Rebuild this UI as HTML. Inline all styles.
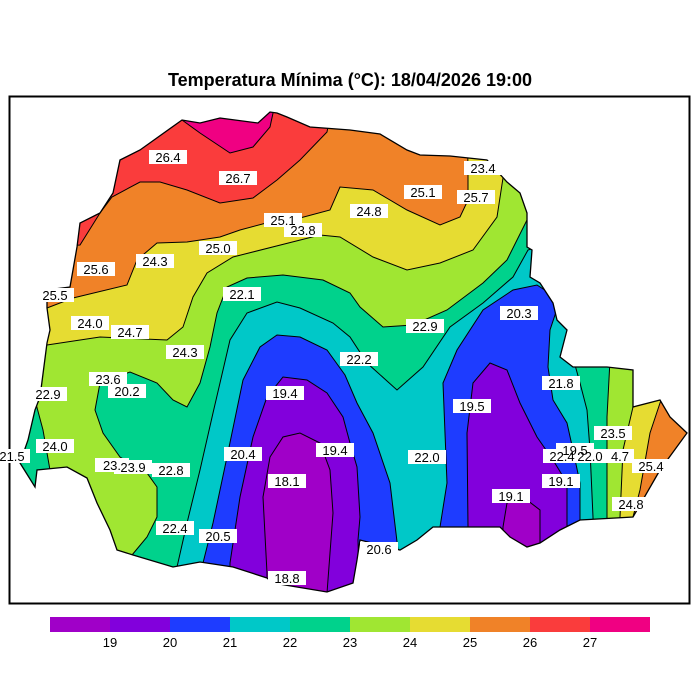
<!DOCTYPE html>
<html><head><meta charset="utf-8"><style>
html,body{margin:0;padding:0;background:#fff;}
svg{display:block;}
text{font-family:"Liberation Sans",sans-serif;}
</style></head><body>
<svg width="700" height="700" viewBox="0 0 700 700" xmlns="http://www.w3.org/2000/svg">
<defs>
<clipPath id="st"><polygon id="outl" points="120,160 140,150 182,120 200,123 220,118 258,123 270,112 277,113 287,117 310,127 350,130 380,134 407,150 420,155 450,156 487,160 507,182 520,193 527,213 527,247 532,250 530,277 540,283 553,303 557,320 567,330 560,357 573,367 607,367 633,370 633,407 660,400 670,417 687,433 660,470 633,517 580,520 560,530 540,543 527,547 510,537 500,527 433,527 417,540 400,550 360,540 357,560 353,583 327,592 273,583 267,578 233,567 200,562 173,567 133,555 117,550 110,530 97,503 87,478 67,467 37,470 35,487 20,463 28,440 35,410 40,397 47,343 50,330 47,308 47,290 70,287 77,247 80,223 100,213 113,193"/></clipPath>
</defs>
<text x="350" y="86" text-anchor="middle" font-size="18" font-weight="bold">Temperatura Mínima (°C): 18/04/2026 19:00</text>
<rect x="9.5" y="96.5" width="680" height="507" fill="none" stroke="#000" stroke-width="2"/>
<g clip-path="url(#st)" stroke="#000" stroke-width="1">
<rect x="0" y="90" width="700" height="530" fill="#a0e632" stroke="none"/>
<polygon fill="#e6dc32" points="0,345 47,345 100,337 167,340 183,327 193,297 207,273 233,257 320,235 340,237 373,257 407,270 440,263 473,250 497,217 503,178 510,90 0,90"/>
<polygon fill="#f08228" points="0,308 47,308 73,298 127,285 137,260 157,243 187,242 220,237 240,230 270,222 300,218 330,210 340,187 373,190 407,210 440,225 460,217 468,200 468,173 467,90 0,90"/>
<polygon fill="#fa3c3c" points="0,250 80,245 100,213 112,197 140,182 160,182 187,190 220,203 253,198 277,180 300,160 327,132 335,90 0,90"/>
<polygon fill="#f00082" points="175,90 182,120 200,133 230,153 253,147 270,127 278,90"/>
<polygon fill="#00d28c" points="132,555 147,537 157,517 157,487 147,473 120,457 103,433 95,410 100,383 130,372 157,383 173,400 187,407 200,383 210,347 217,313 227,287 247,278 283,275 323,280 350,293 360,307 383,327 413,325 447,310 483,283 507,260 527,220 560,200 700,200 700,620 120,620"/>
<polygon fill="#00d28c" points="0,390 35,400 43,430 50,470 50,500 0,500"/>
<polygon fill="#00c8c8" points="177,567 187,523 200,470 213,413 230,340 247,313 277,302 300,308 333,323 350,337 367,363 397,390 423,367 450,327 483,303 513,277 528,250 560,240 575,365 580,383 587,410 590,450 593,517 595,620 170,620"/>
<polygon fill="#1e3cff" points="203,620 203,563 213,523 227,457 243,380 260,347 277,335 300,337 327,350 345,375 357,403 373,433 390,483 398,550 400,620"/>
<polygon fill="#1e3cff" points="440,620 440,527 447,483 443,383 457,350 483,310 513,290 537,285 560,300 550,330 548,367 553,400 567,423 573,450 580,483 580,520 585,620"/>
<polygon fill="#8200dc" points="230,620 230,563 240,497 253,437 267,397 283,377 307,380 327,393 343,417 350,443 357,467 360,517 358,540 360,620"/>
<polygon fill="#8200dc" points="468,620 468,527 467,433 473,383 490,363 507,370 520,403 537,437 553,460 567,483 567,527 570,620"/>
<polygon fill="#a000c8" points="267,620 267,573 263,497 270,457 283,437 300,433 320,443 330,470 333,513 327,593 327,620"/>
<polygon fill="#a000c8" points="503,620 503,527 507,503 523,497 540,510 540,620"/>
<polygon fill="#a0e632" points="610,360 607,417 607,517 607,620 700,620 700,360"/>
<polygon fill="#e6dc32" points="633,360 633,407 623,450 620,517 620,620 700,620 700,360"/>
<polygon fill="#f08228" points="665,390 660,403 650,433 640,490 633,517 633,620 700,620 700,390"/>
</g>
<use href="#outl" fill="none" stroke="#000" stroke-width="1.3"/>
<g font-size="13" text-anchor="middle">
<g fill="#fff" stroke="none">
<rect x="149" y="150" width="38" height="14"/><rect x="219" y="171" width="38" height="14"/><rect x="264" y="213" width="38" height="14"/><rect x="284" y="223" width="38" height="14"/><rect x="350" y="204" width="38" height="14"/><rect x="404" y="185" width="38" height="14"/><rect x="457" y="190" width="38" height="14"/><rect x="464" y="161" width="38" height="14"/><rect x="199" y="241" width="38" height="14"/><rect x="136" y="254" width="38" height="14"/><rect x="77" y="262" width="38" height="14"/><rect x="36" y="288" width="38" height="14"/><rect x="71" y="316" width="38" height="14"/><rect x="111" y="325" width="38" height="14"/><rect x="166" y="345" width="38" height="14"/><rect x="223" y="287" width="38" height="14"/><rect x="406" y="319" width="38" height="14"/><rect x="500" y="306" width="38" height="14"/><rect x="340" y="352" width="38" height="14"/><rect x="89" y="372" width="38" height="14"/><rect x="108" y="384" width="38" height="14"/><rect x="29" y="387" width="38" height="14"/><rect x="266" y="386" width="38" height="14"/><rect x="453" y="399" width="38" height="14"/><rect x="542" y="376" width="38" height="14"/><rect x="36" y="439" width="38" height="14"/><rect x="0" y="449" width="30" height="14"/><rect x="95" y="458" width="34" height="14"/><rect x="114" y="460" width="38" height="14"/><rect x="152" y="463" width="38" height="14"/><rect x="224" y="447" width="38" height="14"/><rect x="316" y="443" width="38" height="14"/><rect x="268" y="474" width="38" height="14"/><rect x="408" y="450" width="38" height="14"/><rect x="594" y="426" width="38" height="14"/><rect x="556" y="443" width="38" height="14"/><rect x="543" y="449" width="38" height="14"/><rect x="571" y="449" width="38" height="14"/><rect x="606" y="449" width="28" height="14"/><rect x="632" y="459" width="38" height="14"/><rect x="542" y="474" width="38" height="14"/><rect x="492" y="489" width="38" height="14"/><rect x="612" y="497" width="38" height="14"/><rect x="156" y="521" width="38" height="14"/><rect x="199" y="529" width="38" height="14"/><rect x="360" y="542" width="38" height="14"/><rect x="268" y="571" width="38" height="14"/>
</g>
<text x="168" y="162">26.4</text><text x="238" y="183">26.7</text><text x="283" y="225">25.1</text><text x="303" y="235">23.8</text><text x="369" y="216">24.8</text><text x="423" y="197">25.1</text><text x="476" y="202">25.7</text><text x="483" y="173">23.4</text><text x="218" y="253">25.0</text><text x="155" y="266">24.3</text><text x="96" y="274">25.6</text><text x="55" y="300">25.5</text><text x="90" y="328">24.0</text><text x="130" y="337">24.7</text><text x="185" y="357">24.3</text><text x="242" y="299">22.1</text><text x="425" y="331">22.9</text><text x="519" y="318">20.3</text><text x="359" y="364">22.2</text><text x="108" y="384">23.6</text><text x="127" y="396">20.2</text><text x="48" y="399">22.9</text><text x="285" y="398">19.4</text><text x="472" y="411">19.5</text><text x="561" y="388">21.8</text><text x="55" y="451">24.0</text><text x="12" y="461">21.5</text><text x="112" y="470">23.</text><text x="133" y="472">23.9</text><text x="171" y="475">22.8</text><text x="243" y="459">20.4</text><text x="335" y="455">19.4</text><text x="287" y="486">18.1</text><text x="427" y="462">22.0</text><text x="613" y="438">23.5</text><text x="575" y="455">19.5</text><text x="562" y="461">22.4</text><text x="590" y="461">22.0</text><text x="620" y="461">4.7</text><text x="651" y="471">25.4</text><text x="561" y="486">19.1</text><text x="511" y="501">19.1</text><text x="631" y="509">24.8</text><text x="175" y="533">22.4</text><text x="218" y="541">20.5</text><text x="379" y="554">20.6</text><text x="287" y="583">18.8</text>
</g>
<g>
<rect x="50" y="617" width="60" height="15" fill="#a000c8"/><rect x="110" y="617" width="60" height="15" fill="#8200dc"/><rect x="170" y="617" width="60" height="15" fill="#1e3cff"/><rect x="230" y="617" width="60" height="15" fill="#00c8c8"/><rect x="290" y="617" width="60" height="15" fill="#00d28c"/><rect x="350" y="617" width="60" height="15" fill="#a0e632"/><rect x="410" y="617" width="60" height="15" fill="#e6dc32"/><rect x="470" y="617" width="60" height="15" fill="#f08228"/><rect x="530" y="617" width="60" height="15" fill="#fa3c3c"/><rect x="590" y="617" width="60" height="15" fill="#f00082"/>
</g>
<g font-size="13" text-anchor="middle">
<text x="110" y="647">19</text><text x="170" y="647">20</text><text x="230" y="647">21</text><text x="290" y="647">22</text><text x="350" y="647">23</text><text x="410" y="647">24</text><text x="470" y="647">25</text><text x="530" y="647">26</text><text x="590" y="647">27</text>
</g>
</svg>
</body></html>
